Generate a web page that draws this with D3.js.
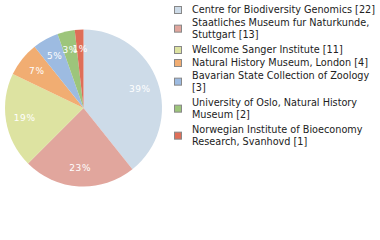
<!DOCTYPE html>
<html>
<head>
<meta charset="utf-8">
<script src="https://cdn.jsdelivr.net/npm/d3@7"></script>
<style>
  body { margin: 0; background: #fff; }
  text { font-family: "DejaVu Sans", sans-serif; }
</style>
</head>
<body>
<svg id="chart"></svg>
<script>
const institutions = [
  'Centre for Biodiversity Genomics',
  'Staatliches Museum fur Naturkunde, Stuttgart',
  'Wellcome Sanger Institute',
  'Natural History Museum, London',
  'Bavarian State Collection of Zoology',
  'University of Oslo, Natural History Museum',
  'Norwegian Institute of Bioeconomy Research, Svanhovd'
];
const records = [22, 13, 11, 4, 3, 2, 1];
const sliceColors = ['#cddbe8', '#e1a69d', '#dde3a1', '#f1ad72', '#9dbbe1', '#9dc57b', '#df6e58'];

const width = 380, height = 240;
const cx = 83.5, cy = 108, radius = 78.5;

const svg = d3.select('#chart')
  .attr('width', width)
  .attr('height', height);

const total = d3.sum(records);
const data = institutions.map((name, i) => ({ name, value: records[i], i }));

const color = d3.scaleOrdinal()
  .domain(institutions)
  .range(sliceColors);

const pie = d3.pie()
  .value(d => d.value)
  .sort(null);

const arc = d3.arc().innerRadius(0).outerRadius(radius);
const labelArc = d3.arc().innerRadius(radius * 0.76).outerRadius(radius * 0.76);

const g = svg.append('g')
  .attr('transform', `translate(${cx},${cy})`);

const slices = g.selectAll('.slice')
  .data(pie(data))
  .enter()
  .append('g')
  .attr('class', 'slice');

slices.append('path')
  .attr('d', arc)
  .attr('fill', d => color(d.data.name));

slices.append('text')
  .attr('transform', d => `translate(${labelArc.centroid(d)})`)
  .attr('text-anchor', 'middle')
  .attr('dy', '0.36em')
  .attr('fill', '#fff')
  .style('font-size', '9px')
  .style('letter-spacing', '0.6px')
  .text(d => Math.floor(d.data.value / total * 100) + '%');

// legend, wrapped to the space on the right
const legend = svg.append('g').attr('class', 'legend');
const maxWidth = 186;
let y = 10;

data.forEach(d => {
  const item = legend.append('g');
  const txt = item.append('text')
    .attr('x', 192)
    .style('font-size', '9.7px')
    .attr('fill', '#222');

  const words = (d.name + ' [' + d.value + ']').split(' ');
  let lines = [];
  let line = [];
  const probe = txt.append('tspan');
  words.forEach(w => {
    const test = line.concat(w).join(' ');
    probe.text(test);
    if (probe.node().getComputedTextLength() > maxWidth && line.length) {
      lines.push(line.join(' '));
      line = [w];
    } else {
      line.push(w);
    }
  });
  lines.push(line.join(' '));
  probe.remove();

  lines.forEach((l, k) => {
    txt.append('tspan')
      .attr('x', 192)
      .attr('y', y + k * 11.3)
      .attr('dy', '0.35em')
      .text(l);
  });

  const mid = y + (lines.length - 1) * 11.3 / 2;
  item.append('rect')
    .attr('x', 174.5)
    .attr('y', mid - 3.5)
    .attr('width', 7)
    .attr('height', 7)
    .attr('fill', color(d.name))
    .attr('stroke', '#888')
    .attr('stroke-width', 1);

  y += 13 + (lines.length - 1) * 14;
});
</script>
</body>
</html>
